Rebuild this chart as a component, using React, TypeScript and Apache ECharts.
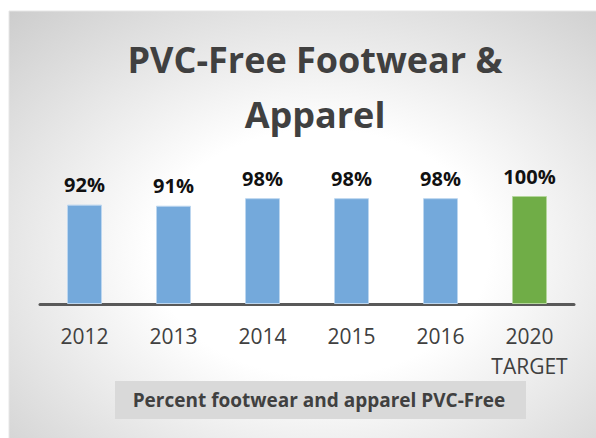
import React, { useEffect, useRef } from "react";
import * as echarts from "echarts";

const categories = ["2012", "2013", "2014", "2015", "2016", "2020\nTARGET"];
const values = [92, 91, 98, 98, 98, 100];
const barColors = ["#74a9db", "#74a9db", "#74a9db", "#74a9db", "#74a9db", "#70ad47"];
const barBorders = ["#bcd6ef", "#bcd6ef", "#bcd6ef", "#bcd6ef", "#bcd6ef", "#b4d69c"];
const titleText = "PVC-Free Footwear &\nApparel";
const footerText = "Percent footwear and apparel PVC-Free";

const FONT = "'Open Sans', 'Noto Sans', sans-serif";

export default function App() {
  const ref = useRef<HTMLDivElement>(null);
  useEffect(() => {
    document.body.style.margin = "0";
    if (!ref.current) return;
    const chart = echarts.init(ref.current, undefined, { renderer: "svg" });
    chart.setOption({
      animation: false,
      backgroundColor: "#ffffff",
      title: {
        text: titleText,
        left: 310,
        top: 27,
        textAlign: "center",
        textStyle: {
          fontFamily: FONT,
          fontSize: 36,
          fontWeight: "bold",
          color: "#404040",
          lineHeight: 55,
        },
      },
      graphic: [
        {
          type: "rect",
          z: -10,
          silent: true,
          shape: { x: 9, y: 11, width: 600, height: 440 },
          style: {
            fill: {
              type: "radial",
              x: 0.52,
              y: 0.55,
              r: 0.8,
              colorStops: [
                { offset: 0, color: "#ffffff" },
                { offset: 0.35, color: "#ffffff" },
                { offset: 1, color: "#c8c8c8" },
              ],
            },
            stroke: "#e6e6e6",
            lineWidth: 1,
          },
        },
        {
          type: "rect",
          z: -5,
          silent: true,
          shape: { x: 115, y: 381, width: 411, height: 38 },
          style: { fill: "#d9d9d9" },
        },
        {
          type: "text",
          z: 10,
          x: 319,
          y: 400,
          style: {
            text: footerText,
            fontFamily: FONT,
            fontSize: 19,
            fontWeight: "bold",
            fill: "#404040",
            align: "center",
            verticalAlign: "middle",
          },
        },
      ],
      grid: { left: 40, right: 22, top: 196, bottom: 134 },
      xAxis: {
        type: "category",
        data: categories,
        axisLine: { show: true, lineStyle: { color: "#595959", width: 3 } },
        axisTick: { show: false },
        axisLabel: {
          interval: 0,
          fontFamily: FONT,
          fontSize: 21,
          color: "#404040",
          margin: 17,
          lineHeight: 30,
        },
      },
      yAxis: {
        type: "value",
        min: 0,
        max: 100,
        show: false,
        splitLine: { show: false },
      },
      series: [
        {
          type: "bar",
          barWidth: 35,
          data: values.map((v, i) => ({
            value: v,
            itemStyle: { color: barColors[i], borderColor: barBorders[i], borderWidth: 1 },
          })),
          label: {
            show: true,
            position: "top",
            distance: 10,
            formatter: "{c}%",
            fontFamily: FONT,
            fontSize: 20,
            fontWeight: "bold",
            color: "#111111",
          },
        },
      ],
    });
    return () => chart.dispose();
  }, []);
  return <div ref={ref} style={{ width: 596, height: 438 }} />;
}
